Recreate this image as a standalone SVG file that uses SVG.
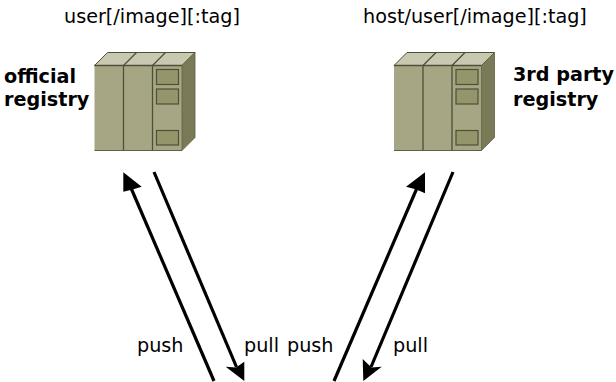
<svg xmlns="http://www.w3.org/2000/svg" width="616" height="382" viewBox="0 0 616 382">
<style>
text{font-family:"DejaVu Sans",sans-serif;font-size:19.2px;fill:#000}
.b{font-weight:bold}
.f{fill:#a7a684;stroke:none}
.l{stroke:#4f4f38;stroke-width:1.3;fill:none}
.t{fill:#c9c8b0;stroke:#4f4f38;stroke-width:1}
.s{fill:#7a7a58;stroke:#5f5f45;stroke-width:.8}
.w{fill:#95956b;stroke:#4f4f38;stroke-width:1.2}
.a{stroke:#000;stroke-width:3.2;fill:none}
</style>
<defs>
<g id="server">
<rect class="f" x="0" y="0" width="87.5" height="85"/>
<path class="t" d="M0 0L13-13H100.500L87.500 0Z"/>
<path class="l" d="M29 0L42-13M58 0L71-13"/>
<path class="s" d="M87.500 0L100.500-13V72L87.500 85Z"/>
<path class="l" d="M0 0H87.500M29 0V85M58 0V85"/>
<path d="M0 85H87.500" stroke="#5f5f45" stroke-width="1.2" fill="none"/>
<rect class="w" x="62" y="4" width="22" height="15"/>
<rect class="w" x="62" y="23.500" width="22" height="15"/>
<rect class="w" x="62" y="65" width="22" height="14.500"/>
</g>
</defs>
<g id="official-registry">
<use href="#server" x="94.500" y="65.500"/>
<text x="64" y="23">user[/image][:tag]</text>
<text class="b" x="4" y="83">official</text>
<text class="b" x="4" y="106">registry</text>
</g>
<g id="third-party-registry">
<use href="#server" x="394" y="65.500"/>
<text x="363" y="23">host/user[/image][:tag]</text>
<text class="b" x="513" y="81">3rd party</text>
<text class="b" x="513" y="106">registry</text>
</g>
<g id="connectors">
<path class="a" d="M214 381L131 188"/>
<path d="M123.300 172.300L141.700 186.700L132.500 189.500L123.300 191.700Z"/>
<path class="a" d="M154 172L236.500 367"/>
<path d="M244.300 381L225.700 366.700L236 367.500L244.300 361.700Z"/>
<path class="a" d="M334 381L417 188"/>
<path d="M425 172.300L406 186.700L416.500 189.500L425 193.300Z"/>
<path class="a" d="M453 172L371 367"/>
<path d="M363.300 381L381.700 366.700L371.500 367.500L362.700 359Z"/>
</g>
<g id="labels">
<text x="137" y="352">push</text>
<text x="244" y="352">pull</text>
<text x="287" y="352">push</text>
<text x="393" y="352">pull</text>
</g>
</svg>
